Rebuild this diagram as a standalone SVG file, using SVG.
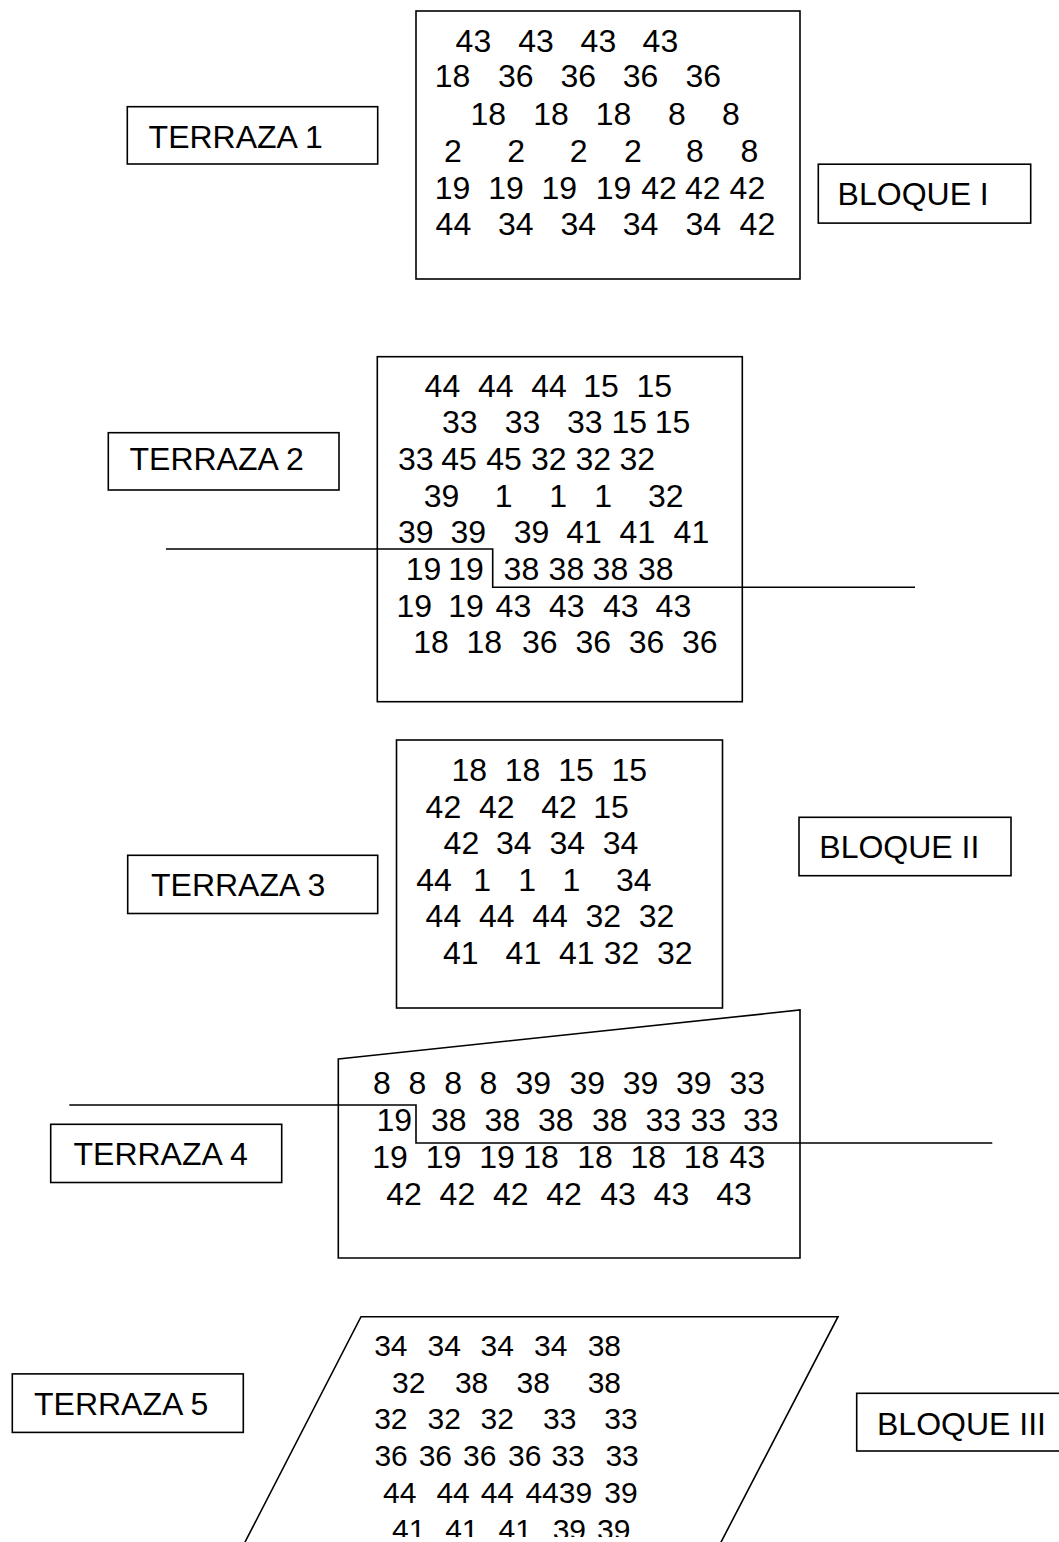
<svg xmlns="http://www.w3.org/2000/svg" width="1059" height="1542" viewBox="0 0 1059 1542">
<style>
.box{fill:none;stroke:#000;stroke-width:1.6}
.ln{fill:none;stroke:#000;stroke-width:1.6}
text{font-family:"Liberation Sans",Arial,sans-serif;fill:#000}
.lb{font-size:32px}
.n{font-size:32px}
.n5{font-size:30px}
</style>
<defs>
<clipPath id="pageclip"><rect x="0" y="0" width="1059" height="1537"/></clipPath>
</defs>
<rect x="0" y="0" width="1059" height="1542" fill="#fff"/>

<g id="terraza1"><rect class="box" x="127.3" y="106.7" width="250.4" height="57.3"/><text class="lb" x="148.6" y="148.3">TERRAZA 1</text></g>
<g id="terraza2"><rect class="box" x="108.3" y="432.7" width="230.7" height="57.3"/><text class="lb" x="129.5" y="470">TERRAZA 2</text></g>
<g id="terraza3"><rect class="box" x="127.7" y="855.3" width="250" height="58.2"/><text class="lb" x="151" y="896.3">TERRAZA 3</text></g>
<g id="terraza4"><rect class="box" x="50.7" y="1124.3" width="231" height="58.2"/><text class="lb" x="73.5" y="1165.3">TERRAZA 4</text></g>
<g id="terraza5"><rect class="box" x="12.3" y="1373.9" width="231" height="58.5"/><text class="lb" x="34" y="1415.2">TERRAZA 5</text></g>
<g id="bloque1"><rect class="box" x="818.3" y="164.2" width="212.4" height="58.9"/><text class="lb" x="837.6" y="205.2">BLOQUE I</text></g>
<g id="bloque2"><rect class="box" x="799" y="817.3" width="212" height="58.4"/><text class="lb" x="819.3" y="858.3">BLOQUE II</text></g>
<g id="bloque3"><rect class="box" x="856.7" y="1393.3" width="210" height="57.7"/><text class="lb" x="877" y="1435">BLOQUE III</text></g>

<g id="block1">
<rect class="box" x="416" y="11" width="384" height="268"/>
<g class="n">
<text x="455.6" y="52">43</text><text x="518.3" y="52">43</text><text x="580.6" y="52">43</text><text x="642.6" y="52">43</text>
<text x="434.8" y="87">18</text><text x="498" y="87">36</text><text x="560.4" y="87">36</text><text x="622.7" y="87">36</text><text x="685.4" y="87">36</text>
<text x="470.5" y="125">18</text><text x="533.2" y="125">18</text><text x="595.8" y="125">18</text><text x="668" y="125">8</text><text x="722" y="125">8</text>
<text x="444" y="162">2</text><text x="507.3" y="162">2</text><text x="569.7" y="162">2</text><text x="624" y="162">2</text><text x="686" y="162">8</text><text x="740.4" y="162">8</text>
<text x="434.8" y="199">19</text><text x="488.2" y="199">19</text><text x="541.5" y="199">19</text><text x="595.8" y="199">19</text><text x="641.3" y="199">42</text><text x="684.9" y="199">42</text><text x="729.6" y="199">42</text>
<text x="435.6" y="235">44</text><text x="498" y="235">34</text><text x="560.4" y="235">34</text><text x="622.7" y="235">34</text><text x="685.4" y="235">34</text><text x="739.6" y="235">42</text>
</g>
</g>

<g id="block2">
<rect class="box" x="377.3" y="356.7" width="365" height="345"/>
<g class="n">
<text x="424.6" y="396.7">44</text><text x="477.9" y="396.7">44</text><text x="531.3" y="396.7">44</text><text x="583.2" y="396.7">15</text><text x="636.5" y="396.7">15</text>
<text x="442" y="433.3">33</text><text x="504.7" y="433.3">33</text><text x="567" y="433.3">33</text><text x="611.5" y="433.3">15</text><text x="654.8" y="433.3">15</text>
<text x="398" y="470">33</text><text x="441.3" y="470">45</text><text x="486.3" y="470">45</text><text x="531" y="470">32</text><text x="575.4" y="470">32</text><text x="619.4" y="470">32</text>
<text x="423.7" y="506.7">39</text><text x="494.8" y="506.7">1</text><text x="549.2" y="506.7">1</text><text x="594.2" y="506.7">1</text><text x="648" y="506.7">32</text>
<text x="398" y="543.3">39</text><text x="450.4" y="543.3">39</text><text x="513.7" y="543.3">39</text><text x="566.3" y="543.3">41</text><text x="619.6" y="543.3">41</text><text x="673.6" y="543.3">41</text>
<text x="405.8" y="580">19</text><text x="448.2" y="580">19</text><text x="503.6" y="580">38</text><text x="548.6" y="580">38</text><text x="592.6" y="580">38</text><text x="637.9" y="580">38</text>
<text x="396.5" y="616.7">19</text><text x="448.2" y="616.7">19</text><text x="495.6" y="616.7">43</text><text x="548.9" y="616.7">43</text><text x="602.9" y="616.7">43</text><text x="655.6" y="616.7">43</text>
<text x="413.2" y="653.3">18</text><text x="466.5" y="653.3">18</text><text x="522" y="653.3">36</text><text x="575.4" y="653.3">36</text><text x="628.7" y="653.3">36</text><text x="682" y="653.3">36</text>
</g>
</g>

<g id="block3">
<rect class="box" x="396.5" y="740" width="326" height="268"/>
<g class="n">
<text x="451.5" y="781">18</text><text x="504.8" y="781">18</text><text x="558.2" y="781">15</text><text x="611.5" y="781">15</text>
<text x="425.6" y="817.6">42</text><text x="478.9" y="817.6">42</text><text x="541.3" y="817.6">42</text><text x="593.2" y="817.6">15</text>
<text x="443.6" y="854.2">42</text><text x="496" y="854.2">34</text><text x="549.4" y="854.2">34</text><text x="602.7" y="854.2">34</text>
<text x="416.3" y="890.8">44</text><text x="473.2" y="890.8">1</text><text x="518.2" y="890.8">1</text><text x="562.5" y="890.8">1</text><text x="616" y="890.8">34</text>
<text x="425.6" y="927.4">44</text><text x="478.9" y="927.4">44</text><text x="532.3" y="927.4">44</text><text x="585.4" y="927.4">32</text><text x="638.7" y="927.4">32</text>
<text x="442.9" y="964">41</text><text x="505.6" y="964">41</text><text x="558.9" y="964">41</text><text x="603.7" y="964">32</text><text x="657" y="964">32</text>
</g>
</g>

<g id="block4">
<polygon class="box" points="338.3,1059 800,1010 800,1258 338.3,1258"/>
<g class="n">
<text x="372.9" y="1094.3">8</text><text x="408.6" y="1094.3">8</text><text x="444.3" y="1094.3">8</text><text x="479.6" y="1094.3">8</text><text x="515.4" y="1094.3">39</text><text x="569.4" y="1094.3">39</text><text x="622.7" y="1094.3">39</text><text x="676" y="1094.3">39</text><text x="729.4" y="1094.3">33</text>
<text x="376.5" y="1131.2">19</text><text x="430.9" y="1131.2">38</text><text x="484.6" y="1131.2">38</text><text x="537.9" y="1131.2">38</text><text x="591.9" y="1131.2">38</text><text x="645.4" y="1131.2">33</text><text x="690.4" y="1131.2">33</text><text x="743" y="1131.2">33</text>
<text x="372.2" y="1168.4">19</text><text x="425.8" y="1168.4">19</text><text x="479.2" y="1168.4">19</text><text x="523.2" y="1168.4">18</text><text x="577.2" y="1168.4">18</text><text x="630.5" y="1168.4">18</text><text x="683.8" y="1168.4">18</text><text x="729.6" y="1168.4">43</text>
<text x="386.3" y="1205.2">42</text><text x="439.6" y="1205.2">42</text><text x="492.9" y="1205.2">42</text><text x="546.3" y="1205.2">42</text><text x="600.3" y="1205.2">43</text><text x="653.6" y="1205.2">43</text><text x="716.3" y="1205.2">43</text>
</g>
</g>

<g id="block5">
<polyline class="box" points="243,1546 361,1316.7 838,1316.7 719,1546"/>
<g class="n5" clip-path="url(#pageclip)">
<text x="374.2" y="1356">34</text><text x="427.6" y="1356">34</text><text x="480.6" y="1356">34</text><text x="534" y="1356">34</text><text x="587.7" y="1356">38</text>
<text x="392" y="1392.7">32</text><text x="454.9" y="1392.7">38</text><text x="516.6" y="1392.7">38</text><text x="587.7" y="1392.7">38</text>
<text x="374.2" y="1429.3">32</text><text x="427.6" y="1429.3">32</text><text x="480.6" y="1429.3">32</text><text x="543.1" y="1429.3">33</text><text x="604.3" y="1429.3">33</text>
<text x="374.4" y="1466.3">36</text><text x="418.7" y="1466.3">36</text><text x="463" y="1466.3">36</text><text x="508" y="1466.3">36</text><text x="551.4" y="1466.3">33</text><text x="605.4" y="1466.3">33</text>
<text x="383" y="1503">44</text><text x="436.4" y="1503">44</text><text x="480.7" y="1503">44</text><text x="525.4" y="1503">4439</text><text x="604.3" y="1503">39</text>
<text x="392" y="1539.7">41</text><text x="445.2" y="1539.7">41</text><text x="498.6" y="1539.7">41</text><text x="552.7" y="1539.7">39</text><text x="597" y="1539.7">39</text>
</g>
</g>

<g id="connectors">
<polyline class="ln" points="166,549 492.7,549 492.7,587.3 915,587.3"/>
<polyline class="ln" points="69.3,1105 416,1105 416,1143 992.3,1143"/>
</g>
</svg>
